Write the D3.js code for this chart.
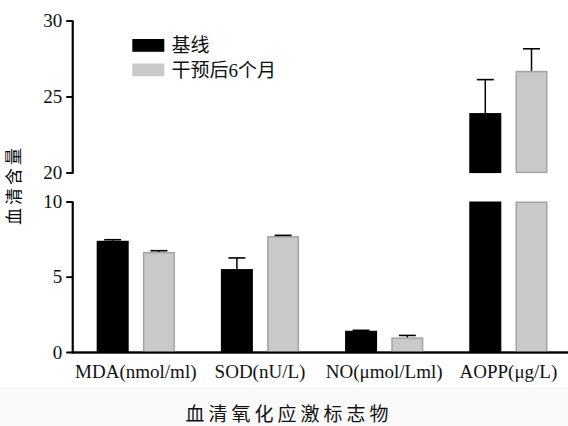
<!DOCTYPE html>
<html>
<head>
<meta charset="utf-8">
<script src="https://cdn.jsdelivr.net/npm/d3@7"></script>
</head>
<body style="margin:0;background:#fff">
<svg id="chart" width="568" height="426" style="display:block"></svg>
<script>
// ---- data ----
const categories = ["MDA(nmol/ml)", "SOD(nU/L)", "NO(\u03bcmol/Lml)", "AOPP(\u03bcg/L)"];
const seriesNames = ["基线", "干预后6个月"];
const baselineValues = [7.39, 5.51, 1.41, 23.91];
const baselineErrors = [0.07, 0.74, 0.03, 2.20];
const afterValues = [6.65, 7.70, 0.97, 26.69];
const afterErrors = [0.08, 0.05, 0.13, 1.45];
const lowerTicks = [0, 5, 10];
const upperTicks = [20, 25, 30];
const yTitle = "血清含量";
const xTitle = "血清氧化应激标志物";

const SERIF = '"Liberation Serif", "Times New Roman", "Noto Sans CJK SC", serif';
const CJK = '"Noto Sans CJK SC", sans-serif';

const svg = d3.select("#chart");
const W = 568, H = 426;

svg.append("rect").attr("x", 0).attr("y", 387).attr("width", W).attr("height", H - 387).attr("fill", "#f9f9f9");

const axisX = 72.2;
const yL = d3.scaleLinear().domain([0, 10]).range([352, 201.5]);
const yU = d3.scaleLinear().domain([20, 30]).range([172.5, 20.5]);

const x0 = d3.scaleBand().domain(categories).range([73.7, 570.5]).paddingInner(0.37).paddingOuter(0.185);
const x1 = d3.scaleBand().domain(seriesNames).range([0, x0.bandwidth()]).paddingInner(0.307);

const fills = ["#000000", "#c9c9c9"];
const strokes = ["#000000", "#a3a3a3"];

const data = [];
categories.forEach((c, i) => {
  data.push({cat: c, s: seriesNames[0], v: baselineValues[i], e: baselineErrors[i], k: 0});
  data.push({cat: c, s: seriesNames[1], v: afterValues[i], e: afterErrors[i], k: 1});
});

// axes (library axis generators)
const axL = d3.axisLeft(yL).tickValues(lowerTicks).tickSize(6).tickSizeOuter(0).tickPadding(4);
const axU = d3.axisLeft(yU).tickValues(upperTicks).tickSize(6).tickSizeOuter(0).tickPadding(4);
[axL, axU].forEach(ax => {
  const a = svg.append("g").attr("transform", `translate(${axisX},0)`).call(ax);
  a.select(".domain").attr("stroke", "#000").attr("stroke-width", 1.8);
  a.selectAll(".tick line").attr("stroke", "#000").attr("stroke-width", 1.6);
  a.selectAll(".tick text").attr("font-size", 19).attr("fill", "#111").attr("font-family", SERIF);
});

const axB = d3.axisBottom(x0).tickSize(0).tickPadding(13);
const b = svg.append("g").attr("transform", `translate(0,${yL(0)})`).call(axB);
b.select(".domain").attr("d", `M${axisX - 0.4},0.5H${W}`).attr("stroke", "#000").attr("stroke-width", 1.8);
b.selectAll(".tick text").attr("font-size", 19).attr("fill", "#111").attr("font-family", SERIF);

const g = svg.append("g");

g.selectAll("rect.low").data(data).join("rect")
  .attr("class", "low")
  .attr("x", d => x0(d.cat) + x1(d.s) + (d.k ? 0.75 : 0))
  .attr("width", d => x1.bandwidth() - (d.k ? 1.5 : 0))
  .attr("y", d => yL(Math.min(d.v, 10)) + (d.k ? 0.75 : 0))
  .attr("height", d => yL(0) - yL(Math.min(d.v, 10)) - (d.k ? 0.75 : 0))
  .attr("fill", d => fills[d.k])
  .attr("stroke", d => d.k ? strokes[d.k] : "none")
  .attr("stroke-width", 1.5);

const upper = data.filter(d => d.v > 20);
g.selectAll("rect.up").data(upper).join("rect")
  .attr("class", "up")
  .attr("x", d => x0(d.cat) + x1(d.s) + (d.k ? 0.75 : 0))
  .attr("width", d => x1.bandwidth() - (d.k ? 1.5 : 0))
  .attr("y", d => yU(d.v) + (d.k ? 0.75 : 0))
  .attr("height", d => yU(20) - yU(d.v) - (d.k ? 1.5 : 0) + 0.6)
  .attr("fill", d => fills[d.k])
  .attr("stroke", d => d.k ? strokes[d.k] : "none")
  .attr("stroke-width", 1.5);

const yOf = v => v > 20 ? yU(v) : yL(v);
const eb = g.selectAll("g.err").data(data).join("g").attr("class", "err");
eb.append("line")
  .attr("x1", d => x0(d.cat) + x1(d.s) + x1.bandwidth() / 2)
  .attr("x2", d => x0(d.cat) + x1(d.s) + x1.bandwidth() / 2)
  .attr("y1", d => yOf(d.v))
  .attr("y2", d => yOf(d.v + d.e))
  .attr("stroke", "#000").attr("stroke-width", 1.5);
eb.append("line")
  .attr("x1", d => x0(d.cat) + x1(d.s) + x1.bandwidth() / 2 - 8.5)
  .attr("x2", d => x0(d.cat) + x1(d.s) + x1.bandwidth() / 2 + 8.5)
  .attr("y1", d => yOf(d.v + d.e))
  .attr("y2", d => yOf(d.v + d.e))
  .attr("stroke", "#000").attr("stroke-width", 1.6);

// axis lines reinforced as filled strips from the same scales
const al = svg.append("g").attr("class", "axis-strips").attr("fill", "#000");
[yL, yU].forEach(sc => {
  const r = sc.range();
  al.append("rect").attr("x", axisX - 0.4).attr("width", 1.8)
    .attr("y", r[1]).attr("height", r[0] - r[1] + 1.3);
});
lowerTicks.map(yL).concat(upperTicks.map(yU)).forEach(yy => {
  al.append("rect").attr("x", axisX - 5.5).attr("width", 6.5)
    .attr("y", yy - 0.3).attr("height", 1.6);
});
al.append("rect").attr("x", axisX - 0.4).attr("width", W - axisX + 0.4)
  .attr("y", yL(0) - 0.4).attr("height", 1.8);

const lg = svg.append("g");
seriesNames.forEach((s, i) => {
  const yy = 39 + i * 24.5;
  lg.append("rect").attr("x", 132.3).attr("y", yy).attr("width", 32).attr("height", 12.8)
    .attr("fill", fills[i]);
  lg.append("text").attr("x", 171.5).attr("y", yy + 6.6).attr("dy", "0.36em")
    .attr("font-size", 19).attr("font-family", SERIF).attr("fill", "#111").text(s);
});

svg.append("text")
  .attr("transform", "translate(14,185) rotate(-90)")
  .attr("text-anchor", "middle").attr("dy", "0.36em")
  .attr("font-family", CJK).attr("fill", "#000")
  .attr("font-size", 17).attr("letter-spacing", 3).text(yTitle);

svg.append("text")
  .attr("x", 289).attr("y", 414).attr("dy", "0.36em")
  .attr("text-anchor", "middle").attr("font-family", CJK).attr("fill", "#111")
  .attr("font-size", 19).attr("letter-spacing", 4).text(xTitle);
</script>
</body>
</html>
